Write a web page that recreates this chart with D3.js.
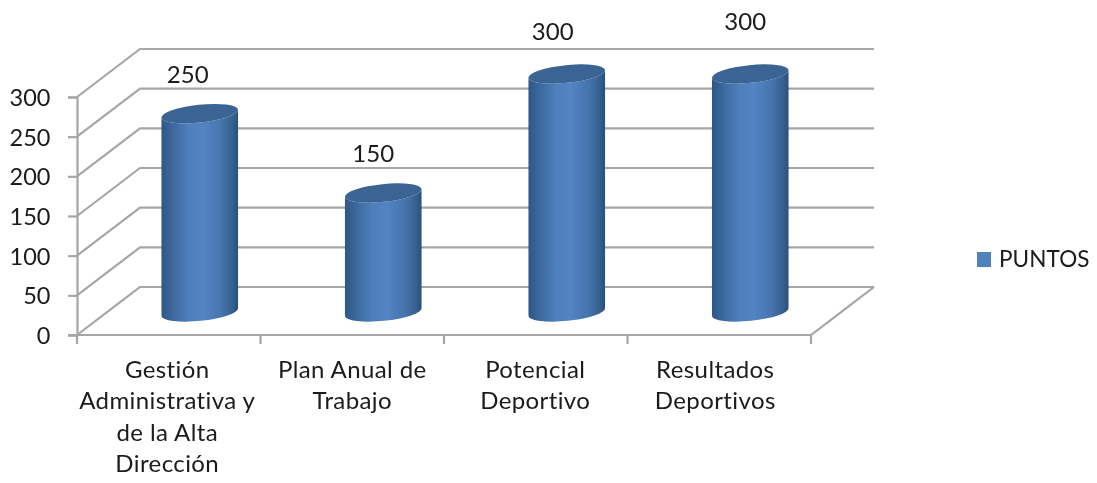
<!DOCTYPE html>
<html><head><meta charset="utf-8">
<script src="https://cdn.jsdelivr.net/npm/d3@7/dist/d3.min.js"></script>
<style>
html,body{margin:0;padding:0;background:#fff;overflow:hidden}
svg{display:block}
text{font-family:Lato,"Open Sans",sans-serif;fill:#1a1a1a}
</style></head><body>
<svg id="c" width="1097" height="483"></svg>
<script>
const categories = ["Gestión Administrativa y de la Alta Dirección","Plan Anual de Trabajo","Potencial Deportivo","Resultados Deportivos"];
const categoryLines = [["Gestión","Administrativa y","de la Alta","Dirección"],["Plan Anual de","Trabajo"],["Potencial","Deportivo"],["Resultados","Deportivos"]];
const seriesName = "PUNTOS";
const puntos = [250,150,300,300];
const yTicks = [0,50,100,150,200,250,300];

const layout = {x0:77,x1:811,y0:335,y1:97,dx:63,dy:-48,rx:38.5,ry:8.9,tilt:-6,fs:24,lh:31.3};
const labelNudge = [[-12,1],[-10,1],[-14,-2],[-5,-12]];
const categoryNudge = [0,1.5,1,-2.5];

const svg = d3.select("#c");
const x = d3.scaleBand().domain(categories).range([layout.x0,layout.x1]);
const y = d3.scaleLinear().domain([0,300]).range([layout.y0,layout.y1]);
const grid="#a6a6a6";

const defs = svg.append("defs");
const g = defs.append("linearGradient").attr("id","cyl");
[[0,"#2f5684"],[0.12,"#3a6599"],[0.35,"#4e7fba"],[0.55,"#5384c3"],[0.78,"#4674ad"],[0.93,"#35608f"],[1,"#2b4f7a"]]
  .forEach(([o,c])=>g.append("stop").attr("offset",o).attr("stop-color",c));
defs.append("filter").attr("id","soft").append("feGaussianBlur").attr("stdDeviation",0.55);

const root = svg.append("g").attr("filter","url(#soft)");

// walls: gridlines and floor edges
root.append("g").selectAll("path").data(yTicks).join("path")
  .attr("fill","none").attr("stroke",grid).attr("stroke-width",2.2)
  .attr("d",v=>d3.line()([[layout.x0,y(v)],[layout.x0+layout.dx,y(v)+layout.dy],[layout.x1+layout.dx,y(v)+layout.dy]]));
root.append("path").attr("fill","none").attr("stroke",grid).attr("stroke-width",2.2)
  .attr("d",d3.line()([[layout.x1,y(0)],[layout.x1+layout.dx,y(0)+layout.dy]]));

// axes
const ax = root.append("g").attr("transform",`translate(${layout.x0},0)`)
  .call(d3.axisLeft(y).tickValues(yTicks).tickSize(9).tickPadding(17.5));
ax.select(".domain").attr("stroke",grid).attr("stroke-width",2.2);
ax.selectAll(".tick line").attr("stroke",grid).attr("stroke-width",2.2);
ax.selectAll("text").attr("font-size",23.5).attr("fill","#1a1a1a").attr("dy","0.36em").style("font-family","Lato");

const bx = root.append("g").attr("transform",`translate(0,${layout.y0})`)
  .call(d3.axisBottom(x).tickSize(0).tickFormat(""));
bx.select(".domain").attr("stroke",grid).attr("stroke-width",2.2).attr("d",`M${layout.x0-9},0H${layout.x1}`);
root.append("g").selectAll("line").data(d3.range(categories.length+1)).join("line")
  .attr("x1",i=>layout.x0+i*x.bandwidth()).attr("x2",i=>layout.x0+i*x.bandwidth())
  .attr("y1",layout.y0).attr("y2",layout.y0+9).attr("stroke",grid).attr("stroke-width",2.2);

// category labels
root.append("g").selectAll("text").data(categories).join("text")
  .attr("text-anchor","middle").attr("font-size",layout.fs).attr("letter-spacing",0.4)
  .each(function(c,i){
    d3.select(this).selectAll("tspan").data(categoryLines[i]).join("tspan")
      .attr("x",x(c)+x.bandwidth()/2-1.5+categoryNudge[i]).attr("y",(d,j)=>378+j*layout.lh).text(d=>d);
  });

// cylinders
const th = layout.tilt*Math.PI/180, cs=Math.cos(th), sn=Math.sin(th);
function cyl(cx,top,bot){
  const hx=layout.rx*cs, hy=layout.rx*sn;
  const a=`A${layout.rx},${layout.ry} ${layout.tilt} 0 0`;
  return `M${cx-hx},${top-hy}L${cx-hx},${bot-hy}${a} ${cx+hx},${bot+hy}L${cx+hx},${top+hy}${a.slice(0,-1)}1 ${cx-hx},${top-hy}Z`;
}
const cxOf = c=>x(c)+x.bandwidth()/2+layout.dx/2-0.5;
const base = y(0)+layout.dy/2+1;
const bars = root.append("g").selectAll("g").data(puntos).join("g");
bars.append("path").attr("fill","url(#cyl)")
  .attr("d",(v,i)=>cyl(cxOf(categories[i]),base-(y(0)-y(v)),base));
bars.append("ellipse").attr("fill","#3a6493")
  .attr("rx",layout.rx).attr("ry",layout.ry)
  .attr("transform",(v,i)=>`translate(${cxOf(categories[i])},${base-(y(0)-y(v))}) rotate(${layout.tilt})`);

// data labels
bars.append("text").attr("text-anchor","middle").attr("font-size",layout.fs)
  .attr("x",(v,i)=>cxOf(categories[i])+labelNudge[i][0])
  .attr("y",(v,i)=>base-(y(0)-y(v))-32+labelNudge[i][1])
  .text(v=>v);

// legend
const lg = root.append("g");
lg.append("rect").attr("x",977).attr("y",252).attr("width",14).attr("height",15).attr("fill","#4f81bd");
lg.append("text").attr("x",999).attr("y",267).attr("font-size",22.5).attr("letter-spacing",0.1).text(seriesName);
</script>
</body></html>
